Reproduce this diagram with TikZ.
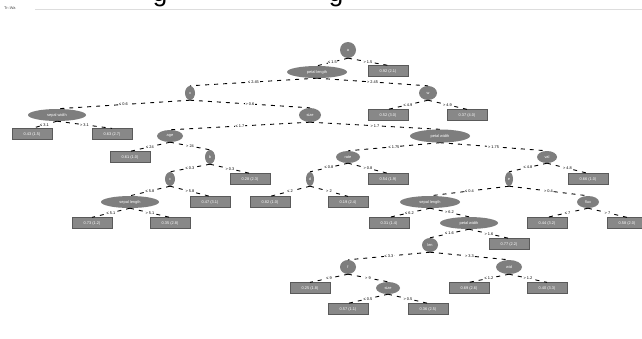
\documentclass[tikz,border=0pt]{standalone}
\usepackage{fontspec}
\setmainfont{Liberation Sans}
\usetikzlibrary{shapes.geometric}
\definecolor{nodegray}{HTML}{7E7E7E}
\definecolor{leafgray}{HTML}{888888}
\definecolor{leafedge}{HTML}{5A5A5A}
\definecolor{rulegray}{HTML}{DDDDDD}
\begin{document}
\begin{tikzpicture}[x=1pt,y=-1pt,
 every node/.style={font=\fontsize{3.9}{4.5}\selectfont},
 dec/.style={ellipse, fill=nodegray, text=white, inner sep=0pt, minimum height=12pt},
 leaf/.style={rectangle, fill=leafgray, draw=leafedge, line width=0.3pt, text=white, minimum width=40pt, minimum height=11pt, inner sep=0pt},
 edge/.style={draw=black, dash pattern=on 4pt off 5pt, line width=0.9pt},
 elab/.style={fill=white, inner sep=0.6pt, text=black}
]
\useasboundingbox[fill=white] (0,0) rectangle (642,338);
\begin{scope}
\clip (0,0) rectangle (642,338);
\node[anchor=base, font=\fontsize{26}{26}\selectfont, inner sep=0pt] (g1) at (160,1) {g};
\node[anchor=base, font=\fontsize{26}{26}\selectfont, inner sep=0pt] (g2) at (336,1) {g};
\end{scope}
\coordinate (ruleL) at (35,9.5);
\coordinate (ruleR) at (642,9.5);
\draw[rulegray, line width=1.2pt] (ruleL) -- (ruleR);
\node[anchor=west, inner sep=0pt, text=black!70] (title) at (4,8) {Tr--Wa};

% nodes
\node[dec, minimum width=16pt, minimum height=16pt] (r) at (348,50) {a};
\node[dec, minimum width=60pt] (A) at (317,72) {petal length};
\node[leaf] (B) at (388,71) {0.92 (2.1)};
\node[dec, minimum width=10pt, minimum height=14pt] (C) at (190,93) {x};
\node[dec, minimum width=18pt, minimum height=14pt] (D) at (428,93) {w};
\node[dec, minimum width=58pt] (E) at (57,115) {sepal width};
\node[dec, minimum width=22pt, minimum height=14pt] (F) at (310,115) {size};
\node[leaf] (D1) at (388,115) {0.52 (3.0)};
\node[leaf] (D2) at (467,115) {0.37 (4.0)};
\node[leaf] (E1) at (32,134) {0.43 (1.5)};
\node[leaf] (E2) at (112,134) {0.63 (2.7)};
\node[dec, minimum width=26pt] (G) at (170,136) {age};
\node[dec, minimum width=60pt, minimum height=13pt] (H) at (440,136) {petal width};
\node[leaf] (G1) at (130,157) {0.61 (1.0)};
\node[dec, minimum width=10pt, minimum height=14pt] (I) at (210,157) {b};
\node[dec, minimum width=10pt, minimum height=14pt] (J) at (170,179) {c};
\node[leaf] (I1) at (250,179) {0.28 (2.3)};
\node[dec, minimum width=58pt] (K) at (130,202) {sepal length};
\node[leaf] (J1) at (210,202) {0.47 (3.1)};
\node[leaf] (K1) at (92,223) {0.73 (1.2)};
\node[leaf] (K2) at (170,223) {0.35 (2.8)};
\node[dec, minimum width=24pt] (L) at (348,157) {rate};
\node[dec, minimum width=20pt] (M) at (547,157) {val};
\node[dec, minimum width=8pt, minimum height=14pt] (N) at (310,179) {d};
\node[leaf] (L1) at (388,179) {0.54 (1.9)};
\node[leaf] (N1) at (270,202) {0.82 (1.0)};
\node[leaf] (N2) at (348,202) {0.19 (2.4)};
\node[dec, minimum width=8pt, minimum height=14pt] (O) at (509,179) {e};
\node[leaf] (M1) at (588,179) {0.66 (1.0)};
\node[dec, minimum width=60pt] (P) at (430,202) {sepal length};
\node[dec, minimum width=22pt] (Q) at (588,202) {flux};
\node[leaf] (Q1) at (547,223) {0.44 (3.2)};
\node[leaf] (Q2) at (627,223) {0.58 (2.0)};
\node[leaf] (P1) at (389,223) {0.31 (1.4)};
\node[dec, minimum width=58pt] (R) at (469,223) {petal width};
\node[dec, minimum width=16pt, minimum height=14pt] (S) at (430,245) {len};
\node[leaf] (R1) at (509,244) {0.77 (2.2)};
\node[dec, minimum width=16pt, minimum height=14pt] (T) at (348,267) {f};
\node[dec, minimum width=26pt, minimum height=14pt] (U) at (509,267) {wid};
\node[leaf] (T1) at (310,288) {0.25 (1.8)};
\node[dec, minimum width=24pt] (V) at (388,288) {size};
\node[leaf] (U1) at (469,288) {0.69 (2.6)};
\node[leaf] (U2) at (547,288) {0.40 (3.3)};
\node[leaf] (V1) at (348,309) {0.57 (1.1)};
\node[leaf] (V2) at (428,309) {0.36 (2.5)};

% edges
\foreach \p/\c/\l in {r/A/{≤ 1.5}, r/B/{> 1.5}, A/C/{≤ 2.45}, A/D/{> 2.45}, C/E/{≤ 0.6}, C/F/{> 0.6},
  D/D1/{≤ 4.9}, D/D2/{> 4.9}, E/E1/{≤ 3.1}, E/E2/{> 3.1}, F/G/{≤ 1.7}, F/H/{> 1.7},
  G/G1/{≤ 24}, G/I/{> 24}, I/J/{≤ 0.3}, I/I1/{> 0.3}, J/K/{≤ 5.8}, J/J1/{> 5.8},
  K/K1/{≤ 5.1}, K/K2/{> 5.1}, H/L/{≤ 1.75}, H/M/{> 1.75}, L/N/{≤ 0.8}, L/L1/{> 0.8},
  N/N1/{≤ 2}, N/N2/{> 2}, M/O/{≤ 4.8}, M/M1/{> 4.8}, O/P/{≤ 0.4}, O/Q/{> 0.4},
  Q/Q1/{≤ 7}, Q/Q2/{> 7}, P/P1/{≤ 6.2}, P/R/{> 6.2}, R/S/{≤ 1.6}, R/R1/{> 1.6},
  S/T/{≤ 3.3}, S/U/{> 3.3}, T/T1/{≤ 9}, T/V/{> 9}, U/U1/{≤ 1.2}, U/U2/{> 1.2},
  V/V1/{≤ 0.5}, V/V2/{> 0.5}}
  {\draw[edge] (\p.south) -- node[elab]{\l} (\c.north);}
\end{tikzpicture}
\end{document}
